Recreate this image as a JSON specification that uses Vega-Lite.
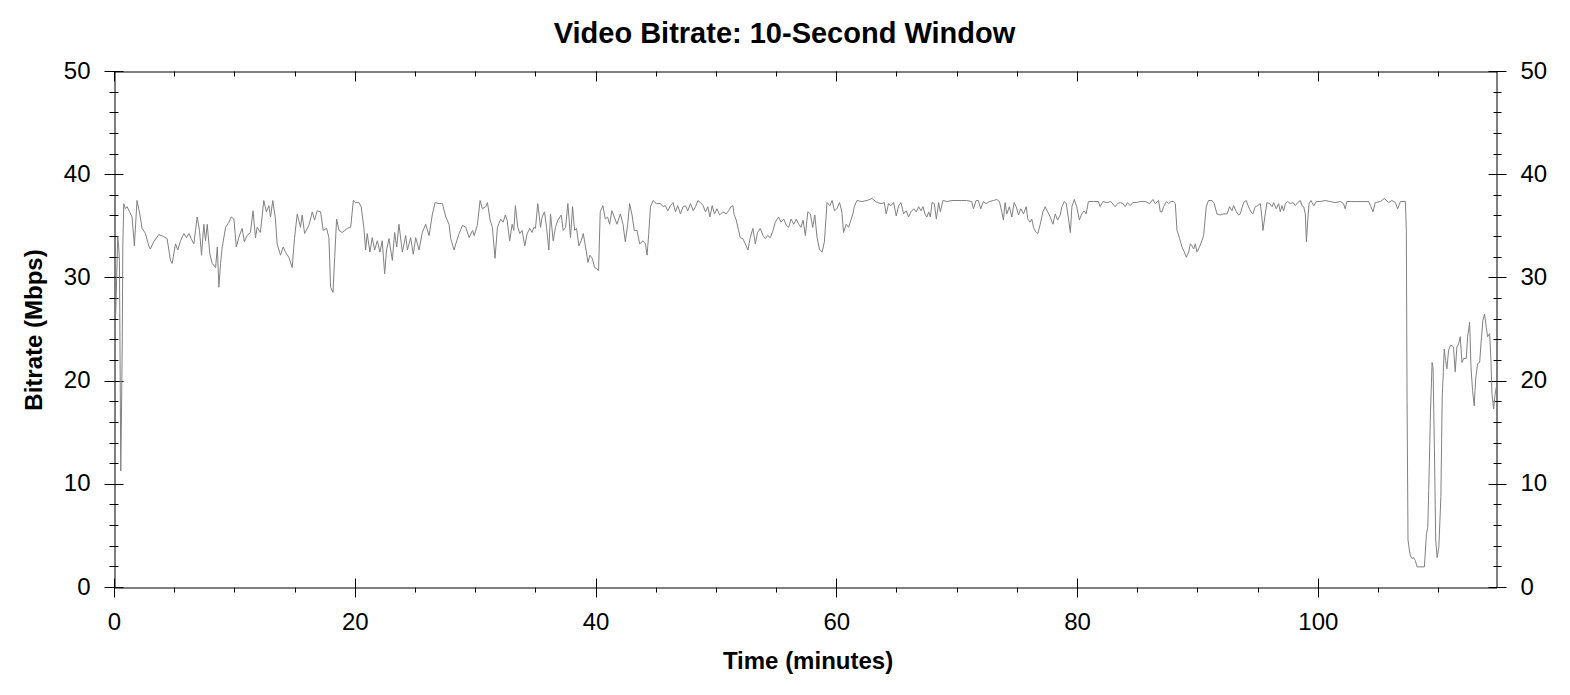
{
"$schema": "https://vega.github.io/schema/vega-lite/v6.json",
"width": 1382, "height": 516,
"autosize": {"type": "none"},
"padding": {"left": 114.5, "top": 71.5, "right": 73.5, "bottom": 107.5},
"background": "white",
"config": {
  "view": {"stroke": "black", "strokeWidth": 1},
  "axis": {"grid": false, "domain": false, "translate": 0, "tickColor": "black", "tickWidth": 1, "labelColor": "black", "labelFont": "Liberation Sans", "labelFontSize": 24, "titleFont": "Liberation Sans", "titleColor": "black", "labelFlush": false, "labelOverlap": false}
},
"title": {"text": "Video Bitrate: 10-Second Window", "font": "Liberation Sans", "fontSize": 29, "fontWeight": "bold", "color": "black", "anchor": "middle", "frame": "group", "dx": -21, "dy": 40, "baseline": "alphabetic", "offset": 27.5},
"data": {"values": [
{"t":0.1,"v":26.5},{"t":0.27,"v":34.0},{"t":0.35,"v":33.0},{"t":0.41,"v":31.7},{"t":0.47,"v":20.7},{"t":0.52,"v":11.3},{"t":0.58,"v":16.8},{"t":0.64,"v":23.3},{"t":0.69,"v":33.0},{"t":0.77,"v":37.2},
{"t":0.9,"v":36.7},{"t":1.04,"v":36.9},{"t":1.26,"v":36.4},{"t":1.46,"v":35.9},{"t":1.65,"v":33.1},{"t":1.87,"v":37.5},{"t":2.1,"v":36.2},{"t":2.29,"v":34.8},{"t":2.57,"v":34.3},{"t":2.85,"v":33.1},{"t":2.98,"v":32.8},{"t":3.26,"v":33.5},{"t":3.68,"v":34.2},{"t":4.09,"v":34.0},{"t":4.37,"v":33.8},{"t":4.65,"v":31.7},{"t":4.79,"v":31.4},{"t":5.07,"v":33.3},{"t":5.26,"v":32.7},{"t":5.48,"v":33.6},{"t":5.76,"v":34.3},{"t":5.98,"v":33.9},{"t":6.18,"v":34.3},{"t":6.37,"v":33.8},{"t":6.59,"v":33.3},{"t":6.87,"v":35.9},{"t":7.06,"v":34.6},{"t":7.23,"v":32.2},{"t":7.42,"v":35.2},{"t":7.56,"v":33.6},{"t":7.7,"v":35.2},{"t":7.92,"v":32.3},{"t":8.12,"v":31.4},{"t":8.4,"v":31.0},{"t":8.54,"v":33.0},{"t":8.67,"v":29.1},{"t":8.81,"v":31.4},{"t":8.95,"v":33.0},{"t":9.23,"v":34.9},{"t":9.51,"v":35.4},{"t":9.7,"v":35.9},{"t":9.92,"v":35.7},
{"t":10.12,"v":33.0},{"t":10.32,"v":33.9},{"t":10.6,"v":34.8},{"t":10.79,"v":33.5},{"t":11.01,"v":34.1},{"t":11.29,"v":34.4},{"t":11.51,"v":36.5},{"t":11.71,"v":33.9},{"t":11.85,"v":34.9},{"t":12.12,"v":34.4},{"t":12.4,"v":37.5},{"t":12.62,"v":36.4},{"t":12.82,"v":37.0},{"t":12.96,"v":35.9},{"t":13.15,"v":37.5},{"t":13.37,"v":35.7},{"t":13.51,"v":33.3},{"t":13.79,"v":32.2},{"t":14.01,"v":33.0},{"t":14.2,"v":32.5},{"t":14.48,"v":32.0},{"t":14.76,"v":31.0},{"t":14.95,"v":33.8},{"t":15.18,"v":36.2},{"t":15.45,"v":34.9},{"t":15.59,"v":36.1},{"t":15.79,"v":34.3},{"t":16.15,"v":35.1},{"t":16.43,"v":36.4},{"t":16.62,"v":35.6},{"t":16.84,"v":36.5},{"t":17.12,"v":36.4},{"t":17.34,"v":34.6},{"t":17.62,"v":34.8},{"t":17.81,"v":33.9},{"t":17.95,"v":29.1},{"t":18.15,"v":28.6},{"t":18.29,"v":32.0},{"t":18.45,"v":35.7},{"t":18.65,"v":34.6},{"t":18.92,"v":34.4},{"t":19.34,"v":34.8},{"t":19.62,"v":34.9},{"t":19.84,"v":37.5},
{"t":20.03,"v":37.3},{"t":20.3,"v":37.3},{"t":20.49,"v":36.9},{"t":20.72,"v":34.8},{"t":20.86,"v":32.7},{"t":20.99,"v":34.3},{"t":21.22,"v":32.5},{"t":21.41,"v":33.9},{"t":21.61,"v":32.7},{"t":21.83,"v":33.6},{"t":22.05,"v":32.5},{"t":22.24,"v":33.6},{"t":22.44,"v":30.4},{"t":22.6,"v":32.7},{"t":22.8,"v":33.8},{"t":23.08,"v":31.7},{"t":23.27,"v":34.4},{"t":23.44,"v":33.0},{"t":23.63,"v":35.2},{"t":23.91,"v":32.5},{"t":24.19,"v":34.1},{"t":24.33,"v":32.7},{"t":24.6,"v":33.9},{"t":24.82,"v":32.3},{"t":25.02,"v":33.9},{"t":25.3,"v":32.7},{"t":25.57,"v":34.4},{"t":25.85,"v":35.2},{"t":26.13,"v":34.1},{"t":26.41,"v":36.2},{"t":26.63,"v":37.3},{"t":26.96,"v":37.2},{"t":27.24,"v":37.2},{"t":27.52,"v":35.9},{"t":27.79,"v":35.2},{"t":27.93,"v":33.8},{"t":28.21,"v":32.7},{"t":28.35,"v":33.3},{"t":28.63,"v":34.3},{"t":28.9,"v":35.1},{"t":29.18,"v":34.9},{"t":29.46,"v":33.9},{"t":29.74,"v":34.6},{"t":29.88,"v":34.1},
{"t":30.14,"v":35.1},{"t":30.37,"v":37.5},{"t":30.56,"v":36.7},{"t":30.84,"v":36.9},{"t":30.98,"v":37.3},{"t":31.2,"v":35.6},{"t":31.39,"v":34.9},{"t":31.61,"v":31.9},{"t":31.81,"v":34.9},{"t":32.08,"v":35.7},{"t":32.28,"v":35.4},{"t":32.47,"v":36.1},{"t":32.61,"v":35.6},{"t":32.83,"v":33.6},{"t":33.03,"v":35.2},{"t":33.17,"v":34.6},{"t":33.3,"v":37.0},{"t":33.5,"v":34.9},{"t":33.67,"v":34.3},{"t":33.86,"v":34.6},{"t":34.08,"v":33.1},{"t":34.28,"v":34.3},{"t":34.5,"v":34.8},{"t":34.69,"v":34.4},{"t":34.83,"v":34.9},{"t":34.97,"v":34.8},{"t":35.16,"v":37.2},{"t":35.39,"v":34.9},{"t":35.52,"v":35.9},{"t":35.72,"v":36.4},{"t":35.89,"v":34.9},{"t":36.08,"v":32.7},{"t":36.22,"v":36.2},{"t":36.44,"v":33.6},{"t":36.63,"v":34.9},{"t":36.83,"v":35.6},{"t":37.11,"v":36.1},{"t":37.27,"v":34.6},{"t":37.47,"v":34.9},{"t":37.66,"v":37.2},{"t":37.88,"v":33.9},{"t":38.05,"v":36.9},{"t":38.22,"v":34.6},{"t":38.38,"v":34.8},{"t":38.58,"v":33.1},{"t":38.77,"v":33.6},{"t":38.94,"v":34.3},{"t":39.13,"v":33.0},{"t":39.33,"v":31.5},{"t":39.49,"v":32.2},{"t":39.69,"v":31.9},{"t":39.88,"v":31.0},
{"t":40.07,"v":30.9},{"t":40.21,"v":30.7},{"t":40.35,"v":36.4},{"t":40.57,"v":37.0},{"t":40.77,"v":35.7},{"t":40.96,"v":35.9},{"t":41.13,"v":35.2},{"t":41.32,"v":36.5},{"t":41.52,"v":35.9},{"t":41.74,"v":35.2},{"t":42.02,"v":36.2},{"t":42.24,"v":35.2},{"t":42.43,"v":33.5},{"t":42.63,"v":35.2},{"t":42.79,"v":37.2},{"t":42.99,"v":36.1},{"t":43.18,"v":34.6},{"t":43.4,"v":34.6},{"t":43.63,"v":33.3},{"t":43.9,"v":33.6},{"t":44.1,"v":33.3},{"t":44.24,"v":32.2},{"t":44.38,"v":34.3},{"t":44.52,"v":36.9},{"t":44.74,"v":37.5},{"t":45.01,"v":37.2},{"t":45.35,"v":37.2},{"t":45.57,"v":36.9},{"t":45.76,"v":37.0},{"t":45.96,"v":36.5},{"t":46.18,"v":37.0},{"t":46.4,"v":37.3},{"t":46.6,"v":36.4},{"t":46.79,"v":37.0},{"t":47.01,"v":36.2},{"t":47.23,"v":36.9},{"t":47.43,"v":37.0},{"t":47.62,"v":36.5},{"t":47.85,"v":37.2},{"t":48.07,"v":36.5},{"t":48.26,"v":36.9},{"t":48.46,"v":37.5},{"t":48.68,"v":37.3},{"t":48.9,"v":37.0},{"t":49.09,"v":36.4},{"t":49.29,"v":36.9},{"t":49.46,"v":35.9},{"t":49.65,"v":37.0},{"t":49.84,"v":36.2},
{"t":50.04,"v":36.7},{"t":50.26,"v":36.1},{"t":50.54,"v":36.4},{"t":50.81,"v":36.2},{"t":51.01,"v":36.5},{"t":51.2,"v":36.9},{"t":51.37,"v":37.0},{"t":51.48,"v":36.1},{"t":51.65,"v":35.6},{"t":51.84,"v":34.6},{"t":51.98,"v":33.9},{"t":52.2,"v":33.8},{"t":52.4,"v":33.3},{"t":52.62,"v":32.7},{"t":52.81,"v":33.9},{"t":53.03,"v":34.8},{"t":53.23,"v":33.3},{"t":53.42,"v":34.4},{"t":53.64,"v":34.8},{"t":53.87,"v":34.1},{"t":54.06,"v":33.8},{"t":54.25,"v":34.1},{"t":54.48,"v":33.9},{"t":54.7,"v":34.6},{"t":54.89,"v":35.4},{"t":55.17,"v":35.9},{"t":55.36,"v":35.4},{"t":55.59,"v":35.7},{"t":55.81,"v":35.1},{"t":56.0,"v":34.9},{"t":56.2,"v":35.7},{"t":56.42,"v":35.2},{"t":56.64,"v":35.7},{"t":56.84,"v":35.2},{"t":57.03,"v":34.9},{"t":57.2,"v":35.6},{"t":57.39,"v":34.1},{"t":57.59,"v":36.4},{"t":57.81,"v":36.2},{"t":58.0,"v":34.9},{"t":58.17,"v":36.1},{"t":58.36,"v":33.9},{"t":58.58,"v":32.7},{"t":58.78,"v":32.5},{"t":58.97,"v":33.5},{"t":59.19,"v":37.3},{"t":59.42,"v":37.0},{"t":59.61,"v":37.5},{"t":59.81,"v":36.5},
{"t":60.01,"v":36.7},{"t":60.23,"v":37.3},{"t":60.42,"v":36.4},{"t":60.56,"v":34.4},{"t":60.78,"v":35.2},{"t":60.98,"v":34.9},{"t":61.17,"v":35.6},{"t":61.34,"v":36.2},{"t":61.45,"v":36.9},{"t":61.67,"v":37.5},{"t":62.09,"v":37.4},{"t":62.51,"v":37.5},{"t":62.92,"v":37.7},{"t":63.34,"v":37.3},{"t":63.74,"v":37.2},{"t":63.94,"v":37.3},{"t":64.1,"v":36.2},{"t":64.3,"v":37.2},{"t":64.49,"v":37.0},{"t":64.72,"v":37.3},{"t":64.94,"v":36.0},{"t":65.13,"v":37.0},{"t":65.33,"v":37.3},{"t":65.55,"v":36.2},{"t":65.77,"v":36.5},{"t":65.96,"v":35.9},{"t":66.16,"v":36.4},{"t":66.38,"v":36.7},{"t":66.6,"v":36.4},{"t":66.8,"v":36.9},{"t":66.99,"v":36.5},{"t":67.16,"v":36.9},{"t":67.35,"v":36.1},{"t":67.49,"v":35.9},{"t":67.63,"v":36.4},{"t":67.77,"v":35.9},{"t":67.91,"v":37.3},{"t":68.1,"v":37.2},{"t":68.27,"v":35.7},{"t":68.46,"v":37.3},{"t":68.6,"v":36.4},{"t":68.82,"v":37.5},{"t":69.16,"v":37.4},{"t":69.57,"v":37.5},{"t":69.99,"v":37.5},
{"t":70.38,"v":37.5},{"t":70.79,"v":37.5},{"t":71.21,"v":37.4},{"t":71.35,"v":36.7},{"t":71.57,"v":37.5},{"t":71.76,"v":37.5},{"t":71.96,"v":36.7},{"t":72.18,"v":37.4},{"t":72.4,"v":37.2},{"t":72.68,"v":37.4},{"t":73.01,"v":37.5},{"t":73.29,"v":37.6},{"t":73.51,"v":37.4},{"t":73.71,"v":36.4},{"t":73.84,"v":35.6},{"t":73.98,"v":37.3},{"t":74.12,"v":36.2},{"t":74.34,"v":36.9},{"t":74.54,"v":35.9},{"t":74.73,"v":37.3},{"t":74.9,"v":36.9},{"t":75.09,"v":36.1},{"t":75.29,"v":36.7},{"t":75.51,"v":36.2},{"t":75.73,"v":36.9},{"t":75.87,"v":35.7},{"t":76.06,"v":35.4},{"t":76.2,"v":35.7},{"t":76.34,"v":34.9},{"t":76.56,"v":34.4},{"t":76.7,"v":34.3},{"t":76.9,"v":35.2},{"t":77.12,"v":36.4},{"t":77.31,"v":36.9},{"t":77.51,"v":36.4},{"t":77.73,"v":35.9},{"t":77.95,"v":35.2},{"t":78.15,"v":36.2},{"t":78.34,"v":35.6},{"t":78.56,"v":36.1},{"t":78.7,"v":36.9},{"t":78.9,"v":37.4},{"t":79.06,"v":37.2},{"t":79.26,"v":35.6},{"t":79.4,"v":34.4},{"t":79.53,"v":36.9},{"t":79.73,"v":37.6},{"t":79.93,"v":36.9},
{"t":80.15,"v":35.6},{"t":80.35,"v":36.2},{"t":80.54,"v":36.5},{"t":80.71,"v":36.2},{"t":80.9,"v":37.4},{"t":81.32,"v":37.4},{"t":81.73,"v":37.4},{"t":81.87,"v":36.9},{"t":82.1,"v":37.4},{"t":82.43,"v":37.3},{"t":82.76,"v":37.4},{"t":83.12,"v":36.9},{"t":83.32,"v":37.2},{"t":83.54,"v":37.3},{"t":83.76,"v":37.2},{"t":83.96,"v":36.9},{"t":84.15,"v":37.3},{"t":84.37,"v":37.0},{"t":84.59,"v":37.3},{"t":84.87,"v":37.3},{"t":85.2,"v":37.4},{"t":85.62,"v":37.4},{"t":85.98,"v":37.2},{"t":86.26,"v":37.6},{"t":86.45,"v":37.2},{"t":86.73,"v":37.5},{"t":86.87,"v":36.4},{"t":87.01,"v":36.4},{"t":87.15,"v":36.9},{"t":87.37,"v":37.4},{"t":87.56,"v":37.2},{"t":87.76,"v":37.4},{"t":87.98,"v":37.4},{"t":88.12,"v":37.2},{"t":88.26,"v":34.6},{"t":88.48,"v":33.8},{"t":88.67,"v":33.0},{"t":88.87,"v":32.5},{"t":89.03,"v":32.0},{"t":89.23,"v":32.5},{"t":89.37,"v":33.3},{"t":89.51,"v":33.1},{"t":89.64,"v":32.8},{"t":89.78,"v":33.3},{"t":89.92,"v":32.5},
{"t":90.13,"v":33.0},{"t":90.33,"v":33.6},{"t":90.47,"v":34.1},{"t":90.69,"v":36.9},{"t":90.88,"v":37.5},{"t":91.16,"v":37.5},{"t":91.35,"v":37.2},{"t":91.58,"v":36.2},{"t":91.85,"v":36.1},{"t":92.13,"v":36.2},{"t":92.41,"v":36.2},{"t":92.63,"v":36.9},{"t":92.83,"v":36.5},{"t":92.96,"v":37.0},{"t":93.19,"v":36.4},{"t":93.38,"v":36.1},{"t":93.51,"v":36.2},{"t":93.79,"v":37.3},{"t":94.01,"v":37.5},{"t":94.2,"v":36.9},{"t":94.4,"v":36.4},{"t":94.56,"v":36.2},{"t":94.76,"v":36.9},{"t":94.95,"v":37.0},{"t":95.18,"v":37.2},{"t":95.31,"v":35.9},{"t":95.4,"v":34.6},{"t":95.59,"v":36.2},{"t":95.73,"v":37.3},{"t":95.95,"v":37.2},{"t":96.15,"v":36.9},{"t":96.29,"v":37.3},{"t":96.51,"v":36.7},{"t":96.7,"v":37.2},{"t":96.84,"v":36.4},{"t":96.98,"v":37.0},{"t":97.12,"v":36.5},{"t":97.26,"v":37.2},{"t":97.45,"v":37.4},{"t":97.67,"v":37.2},{"t":97.9,"v":37.3},{"t":98.09,"v":37.0},{"t":98.28,"v":37.3},{"t":98.51,"v":37.5},{"t":98.64,"v":37.0},{"t":98.78,"v":36.9},{"t":98.92,"v":36.2},{"t":99.01,"v":33.5},{"t":99.12,"v":35.6},{"t":99.23,"v":37.2},{"t":99.39,"v":37.5},{"t":99.62,"v":37.0},{"t":99.84,"v":37.4},
{"t":100.15,"v":37.4},{"t":100.57,"v":37.5},{"t":100.98,"v":37.4},{"t":101.4,"v":37.3},{"t":101.82,"v":37.4},{"t":102.09,"v":37.2},{"t":102.23,"v":36.7},{"t":102.37,"v":37.4},{"t":102.79,"v":37.4},{"t":103.2,"v":37.4},{"t":103.62,"v":37.4},{"t":104.18,"v":37.4},{"t":104.37,"v":36.9},{"t":104.54,"v":36.4},{"t":104.73,"v":37.3},{"t":105.15,"v":37.4},{"t":105.48,"v":37.7},{"t":105.84,"v":37.3},{"t":106.12,"v":37.5},{"t":106.4,"v":37.3},{"t":106.59,"v":36.7},{"t":106.82,"v":37.4},{"t":107.23,"v":37.4},{"t":107.31,"v":34.6},{"t":107.37,"v":18.1},{"t":107.45,"v":4.6},{"t":107.53,"v":3.9},{"t":107.64,"v":3.1},{"t":107.78,"v":2.8},{"t":107.92,"v":2.9},{"t":108.06,"v":2.6},{"t":108.2,"v":2.0},{"t":108.81,"v":2.0},{"t":108.98,"v":5.2},{"t":109.09,"v":5.8},{"t":109.17,"v":9.4},{"t":109.31,"v":16.8},{"t":109.45,"v":21.8},{"t":109.53,"v":21.3},{"t":109.64,"v":13.6},{"t":109.75,"v":4.6},{"t":109.87,"v":2.9},
{"t":110.01,"v":3.9},{"t":110.18,"v":8.8},{"t":110.29,"v":18.4},{"t":110.46,"v":23.1},{"t":110.57,"v":22.0},{"t":110.68,"v":21.2},{"t":110.82,"v":23.0},{"t":111.01,"v":23.5},{"t":111.23,"v":23.3},{"t":111.37,"v":20.9},{"t":111.51,"v":23.3},{"t":111.65,"v":23.6},{"t":111.79,"v":24.3},{"t":111.93,"v":21.8},{"t":112.07,"v":22.2},{"t":112.29,"v":22.2},{"t":112.4,"v":24.3},{"t":112.57,"v":25.7},{"t":112.68,"v":21.4},{"t":112.81,"v":19.1},{"t":112.95,"v":17.6},{"t":113.06,"v":20.1},{"t":113.23,"v":21.7},{"t":113.4,"v":21.8},{"t":113.51,"v":23.6},{"t":113.67,"v":25.9},{"t":113.81,"v":26.5},{"t":113.95,"v":25.2},{"t":114.06,"v":24.3},{"t":114.23,"v":24.6},{"t":114.34,"v":22.0},{"t":114.42,"v":18.8},{"t":114.56,"v":17.3},{"t":114.67,"v":18.6},{"t":114.78,"v":19.4}
]},
"layer": [
  {"mark": {"type": "line", "color": "#808080", "strokeWidth": 1, "clip": true},
   "encoding": {
     "x": {"field": "t", "type": "quantitative", "scale": {"domain": [0, 114.8], "nice": false, "zero": false},
       "axis": {"orient": "bottom", "values": [0, 20, 40, 60, 80, 100], "offset": -9, "tickSize": 19, "labelPadding": 13, "format": "d",
         "title": "Time (minutes)", "titleFontSize": 24, "titleFontWeight": "bold", "titleX": 693.5, "titleY": 90, "titleBaseline": "alphabetic", "titleAlign": "center", "titleAngle": 0}},
     "y": {"field": "v", "type": "quantitative", "scale": {"domain": [0, 50], "nice": false, "zero": false},
       "axis": {"orient": "left", "values": [0, 10, 20, 30, 40, 50], "offset": -9, "tickSize": 19, "labelPadding": 14, "format": "d",
         "title": "Bitrate (Mbps)", "titleFontSize": 24, "titleFontWeight": "bold", "titleX": -82, "titleY": 258.5, "titleBaseline": "alphabetic", "titleAlign": "center", "titleAngle": -90}}
   }},
  {"mark": {"type": "line", "opacity": 0},
   "encoding": {
     "x": {"field": "t", "type": "quantitative",
       "axis": {"orient": "bottom", "values": [5, 10, 15, 25, 30, 35, 45, 50, 55, 65, 70, 75, 85, 90, 95, 105, 110], "offset": 0, "tickSize": 5, "labels": false, "title": null}},
     "y": {"field": "v", "type": "quantitative",
       "axis": {"orient": "left", "values": [2, 4, 6, 8, 12, 14, 16, 18, 22, 24, 26, 28, 32, 34, 36, 38, 42, 44, 46, 48], "offset": -4, "tickSize": 9, "labels": false, "title": null}}
   }},
  {"mark": {"type": "line", "opacity": 0},
   "encoding": {
     "x": {"field": "t", "type": "quantitative",
       "axis": {"orient": "top", "values": [0, 20, 40, 60, 80, 100], "offset": -10, "tickSize": 10, "labels": false, "title": null}},
     "y": {"field": "v", "type": "quantitative",
       "axis": {"orient": "right", "values": [0, 10, 20, 30, 40, 50], "offset": -8, "tickSize": 18, "labelPadding": 14, "format": "d", "title": null}}
   }},
  {"mark": {"type": "line", "opacity": 0},
   "encoding": {
     "x": {"field": "t", "type": "quantitative",
       "axis": {"orient": "top", "values": [5, 10, 15, 25, 30, 35, 45, 50, 55, 65, 70, 75, 85, 90, 95, 105, 110], "offset": -5, "tickSize": 5, "labels": false, "title": null}},
     "y": {"field": "v", "type": "quantitative",
       "axis": {"orient": "right", "values": [2, 4, 6, 8, 12, 14, 16, 18, 22, 24, 26, 28, 32, 34, 36, 38, 42, 44, 46, 48], "offset": -3, "tickSize": 8, "labels": false, "title": null}}
   }}
],
"resolve": {"axis": {"x": "independent", "y": "independent"}}
}
